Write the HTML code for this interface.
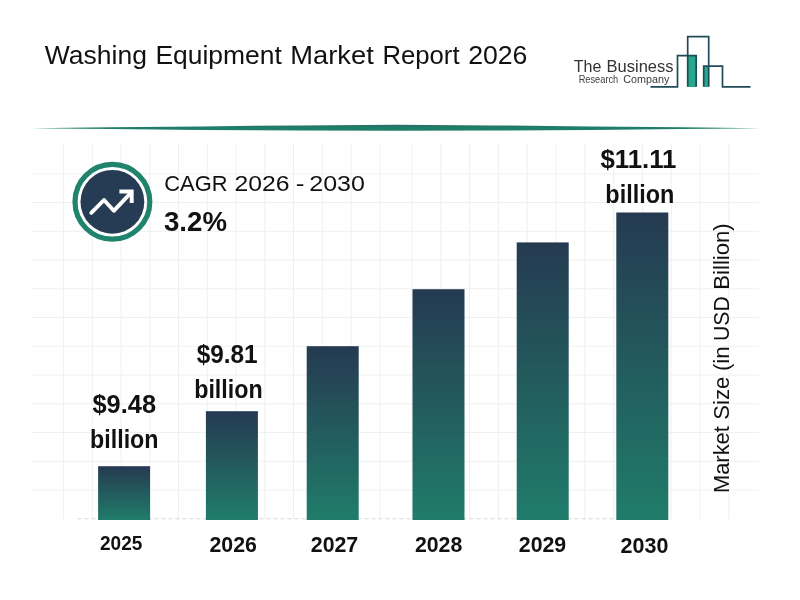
<!DOCTYPE html>
<html><head><meta charset="utf-8"><title>Washing Equipment Market Report 2026</title>
<style>
html,body{margin:0;padding:0;background:#fff;}
body{width:800px;height:600px;overflow:hidden;}
svg{display:block;}
text{font-family:"Liberation Sans",sans-serif;fill:#111;}
.b{font-weight:bold;}
</style></head><body>
<svg width="800" height="600" viewBox="0 0 800 600">
<defs>
<linearGradient id="bar" x1="0" y1="0" x2="0" y2="1">
<stop offset="0" stop-color="#253a51"/><stop offset="1" stop-color="#207c6a"/>
</linearGradient>
<linearGradient id="ln" x1="0" y1="0" x2="0" y2="1">
<stop offset="0" stop-color="#2a6a62"/><stop offset="0.35" stop-color="#1f7d69"/><stop offset="1" stop-color="#1f806a"/>
</linearGradient>
</defs>
<rect width="800" height="600" fill="#fff"/>

<!-- grid -->
<g stroke="#f0f0f0" stroke-width="1" fill="none">
<path d="M63.50 144V519.5M92.25 144V519.5M121.00 144V519.5M149.75 144V519.5M178.50 144V519.5M207.25 144V519.5M236.00 144V519.5M264.75 144V519.5M293.50 144V519.5M322.25 144V519.5M351.00 144V519.5M379.75 144V519.5M412.00 144V519.5M440.80 144V519.5M469.60 144V519.5M498.40 144V519.5M527.20 144V519.5M556.00 144V519.5M584.80 144V519.5M613.60 144V519.5M642.40 144V519.5M671.20 144V519.5M700.00 144V519.5M728.80 144V519.5"/>
<path d="M32 173.75H759M32 202.50H759M32 231.25H759M32 260.00H759M32 288.75H759M32 317.50H759M32 346.25H759M32 375.00H759M32 403.75H759M32 432.50H759M32 461.25H759M32 490.00H759"/>
</g>

<!-- title -->
<text y="64.3" font-size="25.4"><tspan x="44.80" textLength="102.12" lengthAdjust="spacingAndGlyphs">Washing</tspan> <tspan x="155.42" textLength="126.39" lengthAdjust="spacingAndGlyphs">Equipment</tspan> <tspan x="290.35" textLength="83.46" lengthAdjust="spacingAndGlyphs">Market</tspan> <tspan x="382.48" textLength="77.08" lengthAdjust="spacingAndGlyphs">Report</tspan> <tspan x="468.20" textLength="59.22" lengthAdjust="spacingAndGlyphs">2026</tspan></text>

<!-- logo -->
<g id="logo">
<text y="71.8" font-size="17.4" style="fill:#333"><tspan x="573.75" textLength="27.62" lengthAdjust="spacingAndGlyphs">The</tspan> <tspan x="606.55" textLength="66.96" lengthAdjust="spacingAndGlyphs">Business</tspan></text>
<text y="82.7" font-size="10.1" style="fill:#3c3c3c"><tspan x="578.70" textLength="39.56" lengthAdjust="spacingAndGlyphs">Research</tspan> <tspan x="623.25" textLength="46.2" lengthAdjust="spacingAndGlyphs">Company</tspan></text>
<rect x="687.7" y="55.7" width="8.5" height="31.3" fill="#27a88c"/>
<rect x="703.7" y="66.2" width="5" height="20.8" fill="#27a88c"/>
<path d="M650.5 86.8 H677.5 V55.7 H696.2 V86.8 M687.7 86.8 V36.7 H708.7 V86.8 M703.7 86.8 V66.2 H722.5 V86.8 H750.5" fill="none" stroke="#1f4a58" stroke-width="1.7"/>
</g>

<!-- top divider -->
<path d="M32.0 128.30 L110.0 127.20 L200.0 126.40 L300.0 125.40 L396.0 124.75 L492.0 125.40 L592.0 126.40 L682.0 127.20 L760.0 128.30 L760.0 128.30 L682.0 129.00 L592.0 130.00 L492.0 130.50 L396.0 130.75 L300.0 130.50 L200.0 130.00 L110.0 129.00 L32.0 128.30 Z" fill="url(#ln)"/>

<!-- CAGR icon -->
<circle cx="112.4" cy="201.8" r="37.4" fill="none" stroke="#20836c" stroke-width="5.2"/>
<circle cx="112.4" cy="201.8" r="31.9" fill="#263b54"/>
<path d="M91.3 212.8 L104 200 L113.8 210.8 L131 192.6" fill="none" stroke="#fff" stroke-width="3.9" stroke-linecap="round" stroke-linejoin="round"/>
<path d="M119.4 191.5 H131.7 V203" fill="none" stroke="#fff" stroke-width="3.9" stroke-linecap="butt" stroke-linejoin="miter"/>

<text y="191" font-size="22.5"><tspan x="164.28" textLength="63.16" lengthAdjust="spacingAndGlyphs">CAGR</tspan> <tspan x="234.50" textLength="55.06" lengthAdjust="spacingAndGlyphs">2026</tspan> <tspan x="295.83" textLength="8.74" lengthAdjust="spacingAndGlyphs">-</tspan> <tspan x="309.29" textLength="55.68" lengthAdjust="spacingAndGlyphs">2030</tspan></text>
<text class="b" x="164" y="230.8" font-size="27" textLength="63" lengthAdjust="spacingAndGlyphs">3.2%</text>

<!-- baseline -->
<line x1="77.5" y1="518.8" x2="668" y2="518.8" stroke="#d8d8d8" stroke-width="1" stroke-dasharray="4 3"/>

<!-- bars -->
<g fill="url(#bar)">
<rect x="98.1" y="466.2" width="52" height="53.8"/>
<rect x="205.9" y="411.2" width="52" height="108.8"/>
<rect x="306.7" y="346.2" width="52" height="173.8"/>
<rect x="412.5" y="289.2" width="52" height="230.8"/>
<rect x="516.7" y="242.4" width="52" height="277.6"/>
<rect x="616.3" y="212.5" width="52" height="307.5"/>
</g>

<!-- bar labels -->
<g class="b" font-size="25.4" text-anchor="middle">
<text x="124.25" y="413.3" textLength="63.5" lengthAdjust="spacingAndGlyphs">$9.48</text>
<text x="124.3" y="448.1" textLength="68.5" lengthAdjust="spacingAndGlyphs">billion</text>
<text x="227.15" y="363" textLength="61" lengthAdjust="spacingAndGlyphs">$9.81</text>
<text x="228.45" y="397.7" textLength="68.5" lengthAdjust="spacingAndGlyphs">billion</text>
<text x="638.45" y="168" textLength="76" lengthAdjust="spacingAndGlyphs">$11.11</text>
<text x="639.85" y="202.5" textLength="69" lengthAdjust="spacingAndGlyphs">billion</text>
</g>

<!-- x labels -->
<g class="b" text-anchor="middle">
<text x="121.2" y="550" font-size="19.3" textLength="42.3" lengthAdjust="spacingAndGlyphs">2025</text>
<text x="233.2" y="552.2" font-size="21.4" textLength="47.4" lengthAdjust="spacingAndGlyphs">2026</text>
<text x="334.5" y="552" font-size="21.4" textLength="47.4" lengthAdjust="spacingAndGlyphs">2027</text>
<text x="438.6" y="552" font-size="21.4" textLength="47.4" lengthAdjust="spacingAndGlyphs">2028</text>
<text x="542.5" y="551.5" font-size="21.4" textLength="47.4" lengthAdjust="spacingAndGlyphs">2029</text>
<text x="644.5" y="553" font-size="21.4" textLength="47.8" lengthAdjust="spacingAndGlyphs">2030</text>
</g>

<!-- y axis title -->
<text transform="translate(728.7 492) rotate(-90)" y="0" font-size="22.5"><tspan x="-0.97" textLength="66.74" lengthAdjust="spacingAndGlyphs">Market</tspan> <tspan x="72.32" textLength="42.88" lengthAdjust="spacingAndGlyphs">Size</tspan> <tspan x="120.90" textLength="24.91" lengthAdjust="spacingAndGlyphs">(in</tspan> <tspan x="151.06" textLength="44.67" lengthAdjust="spacingAndGlyphs">USD</tspan> <tspan x="202.27" textLength="66.47" lengthAdjust="spacingAndGlyphs">Billion)</tspan></text>
</svg>
</body></html>
